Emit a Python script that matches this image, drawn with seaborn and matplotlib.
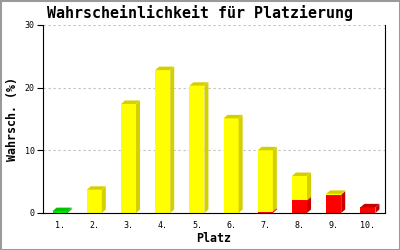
import matplotlib
matplotlib.use("Agg")
import matplotlib.pyplot as plt
from matplotlib.patches import Polygon, Rectangle
import seaborn as sns
import pandas as pd

# ---- data ----
platz = ["1.", "2.", "3.", "4.", "5.", "6.", "7.", "8.", "9.", "10."]
gruen = [0.3, 0, 0, 0, 0, 0, 0, 0, 0, 0]
gelb = [0, 3.7, 17.4, 22.8, 20.3, 15.1, 9.8, 3.9, 0.15, 0]
rot = [0, 0, 0, 0, 0, 0, 0.2, 2.0, 2.9, 0.9]
y_ticks = [0, 10, 20, 30]

title = "Wahrscheinlichkeit für Platzierung"
xlabel = "Platz"
ylabel = "Wahrsch. (%)"

plt.rcParams["font.family"] = ["DejaVu Sans Mono"]

total = [g + y + r for g, y, r in zip(gruen, gelb, rot)]
gelb_rot = [y + r for y, r in zip(gelb, rot)]
df = pd.DataFrame({"Platz": platz, "total": total, "gelb_rot": gelb_rot, "rot": rot})

W, H = 400, 250
fig = plt.figure(figsize=(W / 100, H / 100), dpi=100)
fig.patch.set_facecolor("white")
ax_l, ax_r, ax_t, ax_b = 43, 385, 25, 213
ax = fig.add_axes([ax_l / W, (H - ax_b) / H, (ax_r - ax_l) / W, (ax_b - ax_t) / H])

layers = [("total", "#00ee00", "#00c400"),
          ("gelb_rot", "#ffff00", "#d4d000"),
          ("rot", "#ff0000", "#c80000")]

layer_patches = []
for col, front, side in layers:
    n0 = len(ax.patches)
    sns.barplot(data=df, x="Platz", y=col, color=front, saturation=1,
                width=0.44, errorbar=None, linewidth=0, ax=ax, zorder=3)
    layer_patches.append(ax.patches[n0:])

ax.set_xlim(-0.5, len(platz) - 0.5)
ax.set_ylim(0, 30)

# 3D faces (offsets in pixels converted to data units)
dx = 4 * (len(platz)) / (ax_r - ax_l)
dy = 3.5 * 30 / (ax_b - ax_t)
for i in range(len(platz)):
    hs = [layer_patches[k][i].get_height() for k in range(3)] + [0]
    p = layer_patches[0][i]
    x0 = p.get_x()
    x1 = x0 + p.get_width()
    top_color = None
    for k in range(3):
        t, b = hs[k], hs[k + 1]
        if t - b > 1e-9:
            side = layers[k][2]
            ax.add_patch(Polygon([(x1, b), (x1 + dx, b + dy), (x1 + dx, t + dy), (x1, t)],
                                 closed=True, facecolor=side, edgecolor="none", zorder=3))
            if top_color is None:
                top_color = side
    if top_color is not None:
        t = hs[0]
        ax.add_patch(Polygon([(x0, t), (x1, t), (x1 + dx, t + dy), (x0 + dx, t + dy)],
                             closed=True, facecolor=top_color, edgecolor="none", zorder=3))

# axes styling
ax.set_facecolor("white")
ax.spines["top"].set_visible(False)
for s in ["left", "bottom", "right"]:
    ax.spines[s].set_color("black")
    ax.spines[s].set_linewidth(0.8)
    ax.spines[s].set_zorder(5)

ax.set_yticks(y_ticks)
ax.set_yticklabels([str(v) for v in y_ticks])
ax.tick_params(axis="y", length=4, width=0.8, direction="out", labelsize=6, pad=2, colors="black")
ax.tick_params(axis="x", length=0, labelsize=6, pad=6, colors="black")
ax.yaxis.grid(True, linestyle=(0, (2, 2.5)), color="#c0c0c0", linewidth=0.8)
ax.xaxis.grid(False)
ax.set_axisbelow(True)

ax.set_xlabel(xlabel, fontsize=8.4, fontweight="bold")
ax.set_ylabel(ylabel, fontsize=8.4, fontweight="bold")
ax.xaxis.set_label_coords(0.5, (ax_b - 232) / (ax_b - ax_t))
ax.yaxis.set_label_coords((19 - ax_l) / (ax_r - ax_l), 0.5)

fig.text(0.5, (H - 18) / H, title, ha="center", va="baseline",
         fontsize=10.8, fontweight="bold")

fig.patches.append(Rectangle((0, 0), 1, 1, transform=fig.transFigure, fill=False,
                             edgecolor="#9a9a9a", linewidth=2.2))

fig.savefig("out.png", dpi=100)
